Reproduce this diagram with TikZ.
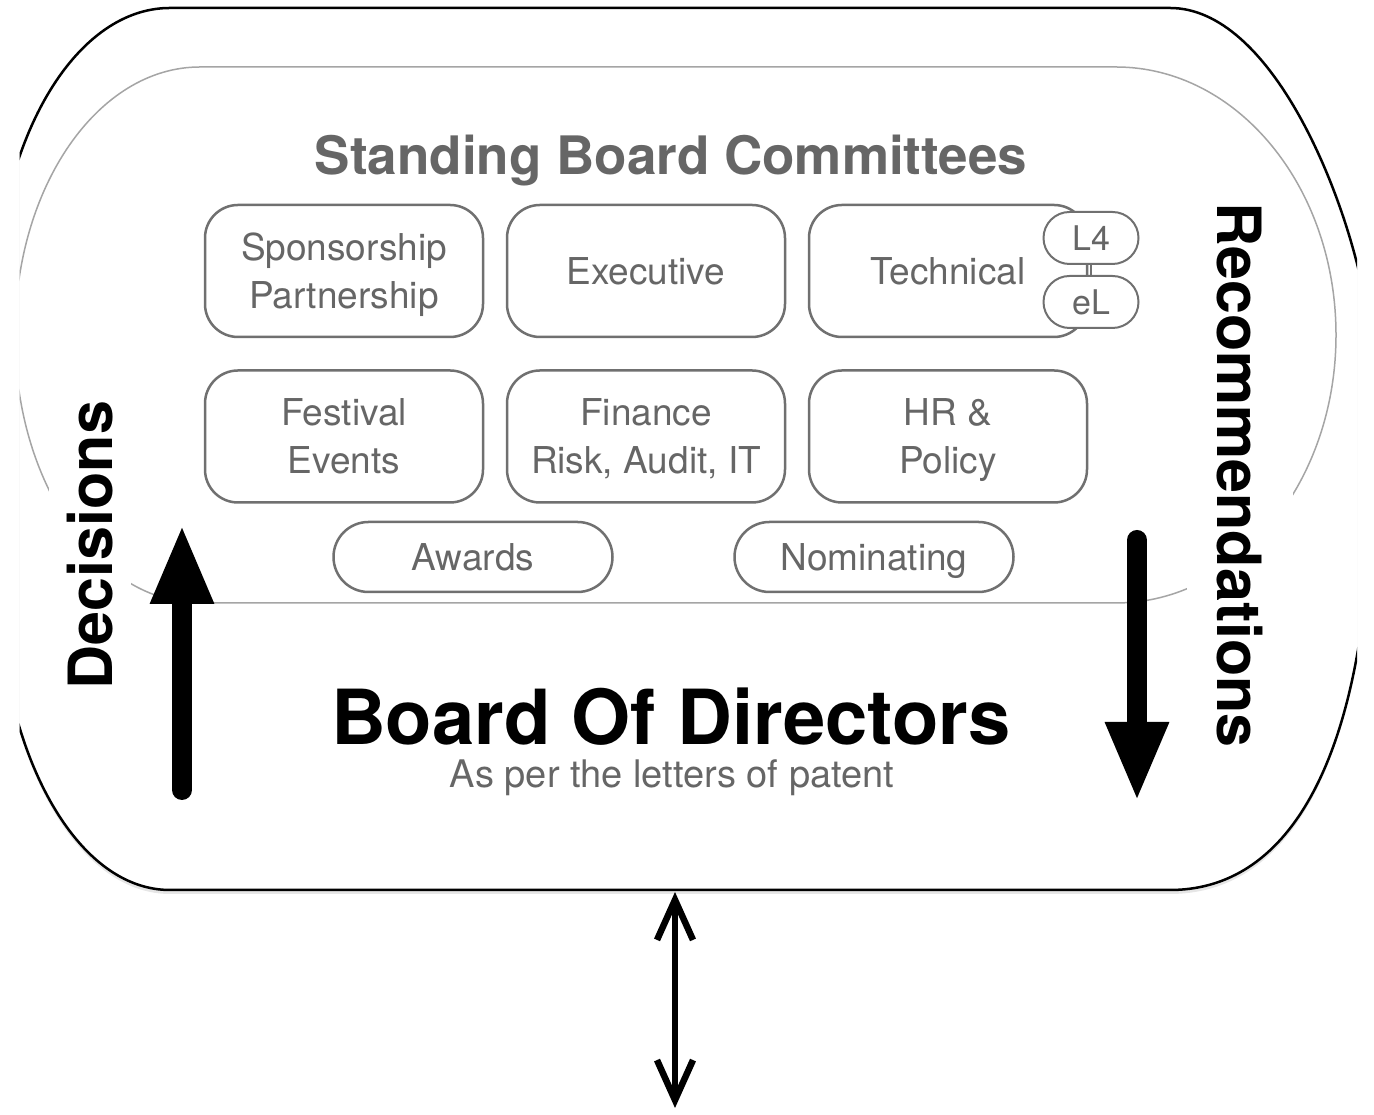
\documentclass[tikz,border=0pt]{standalone}
\usepackage{fontspec}
\setmainfont{TeX Gyre Heros}
\usepackage{tikz}
\usetikzlibrary{positioning,arrows.meta,shapes.misc,shadows}
\definecolor{boxgray}{RGB}{112,112,112}
\definecolor{textgray}{RGB}{102,102,102}
\definecolor{linegray}{RGB}{165,165,165}
\tikzset{
  committee/.style={rectangle, rounded corners=33pt, draw=boxgray, line width=2.5pt, fill=white,
                    minimum width=278pt, minimum height=132pt, text=textgray, align=center,
                    font=\fontsize{37}{48}\selectfont, inner sep=0pt, text depth=0pt},
  pill/.style={rounded rectangle, draw=boxgray, line width=2.5pt, fill=white, minimum width=279pt,
               minimum height=70pt, text=textgray, font=\fontsize{37}{48}\selectfont, inner sep=0pt,
               text depth=0pt},
  tag/.style={rounded rectangle, draw=boxgray, line width=2pt, fill=white, minimum width=95pt,
              minimum height=52pt, text=textgray, font=\fontsize{34}{40}\selectfont, inner sep=0pt},
  sidelabel/.style={fill=white, font=\fontsize{61}{61}\selectfont\bfseries, inner xsep=4pt},
  bigarrow/.style={line width=20pt, line cap=round, -{Triangle[length=80pt,width=58pt]}},
  link/.style={line width=6.5pt,
               {Straight Barb[length=40pt,width=36pt]}-{Straight Barb[length=40pt,width=36pt]}}
}

\begin{document}
\begin{tikzpicture}[x=1pt,y=1pt]
\useasboundingbox (0,0) rectangle (1374,1115);
\begin{scope}
\clip (19.5,0) rectangle (1357,1115);
% outer frame
\draw[line width=2.5pt, fill=white, drop shadow={shadow xshift=0pt,shadow yshift=-4pt,opacity=.2}]
  (170,1107) -- (1170,1107) .. controls (1270,1107) and (1345,925) .. (1365,815)
  -- (1365,515) .. controls (1345,335) and (1280,225) .. (1170,225)
  -- (170,225) .. controls (85,225) and (20,335) .. (3,465)
  -- (3,895) .. controls (25,1015) and (90,1107) .. (170,1107) -- cycle;
% committees area
\draw[linegray, line width=1.5pt] (200,1048) -- (1116,1048)
  arc[start angle=90, end angle=-90, x radius=220pt, y radius=268pt] -- (200,512)
  arc[start angle=270, end angle=90, x radius=185pt, y radius=268pt] -- cycle;
\end{scope}

\node[anchor=base, text=textgray, font=\fontsize{53}{53}\selectfont\bfseries] (title) at (671,940) {Standing Board Committees};

\node[committee] (sponsor) at (344,844) {Sponsorship\\Partnership};
\node[committee, right=21.5pt of sponsor] (exec) {Executive};
\node[committee, right=21.5pt of exec] (tech) {Technical};
\node[committee, below=31pt of sponsor] (festival) {Festival\\Events};
\node[committee, below=31pt of exec] (finance) {Finance\\Risk, Audit, IT};
\node[committee, below=31pt of tech] (hr) {HR \&\\Policy};
\node[pill] (awards) at (473,558) {Awards};
\node[pill] (nominating) at (874,558) {Nominating};

\node[tag] (lfour) at (1091,877) {L4};
\node[tag] (elearn) at (1091,813) {eL};
\draw[boxgray, line width=2pt] (lfour) -- (elearn);

\node[sidelabel, rotate=90, inner ysep=18pt] (decisions) at (90,570) {Decisions};
\node[sidelabel, rotate=-90, inner ysep=30pt] (recommend) at (1240,640) {Recommendations};

\node[anchor=base, inner sep=0pt, font=\fontsize{76}{76}\selectfont\bfseries] (board) at (671,370) {Board Of Directors};
\node[anchor=base, inner sep=0pt, text=textgray, font=\fontsize{38}{38}\selectfont] (patent) at (672,327) {As per the letters of patent};

\coordinate (decTail) at (182,325);
\coordinate (decTip) at (182,591);
\draw[bigarrow] (decTail) -- (decTip);
\coordinate (recTail) at (1137,575);
\coordinate (recTip) at (1137,313);
\draw[bigarrow] (recTail) -- (recTip);

\coordinate (frameBottom) at (675,223);
\coordinate (linkEnd) at (675,7);
\draw[link] (frameBottom) -- (linkEnd);
\end{tikzpicture}
\end{document}
